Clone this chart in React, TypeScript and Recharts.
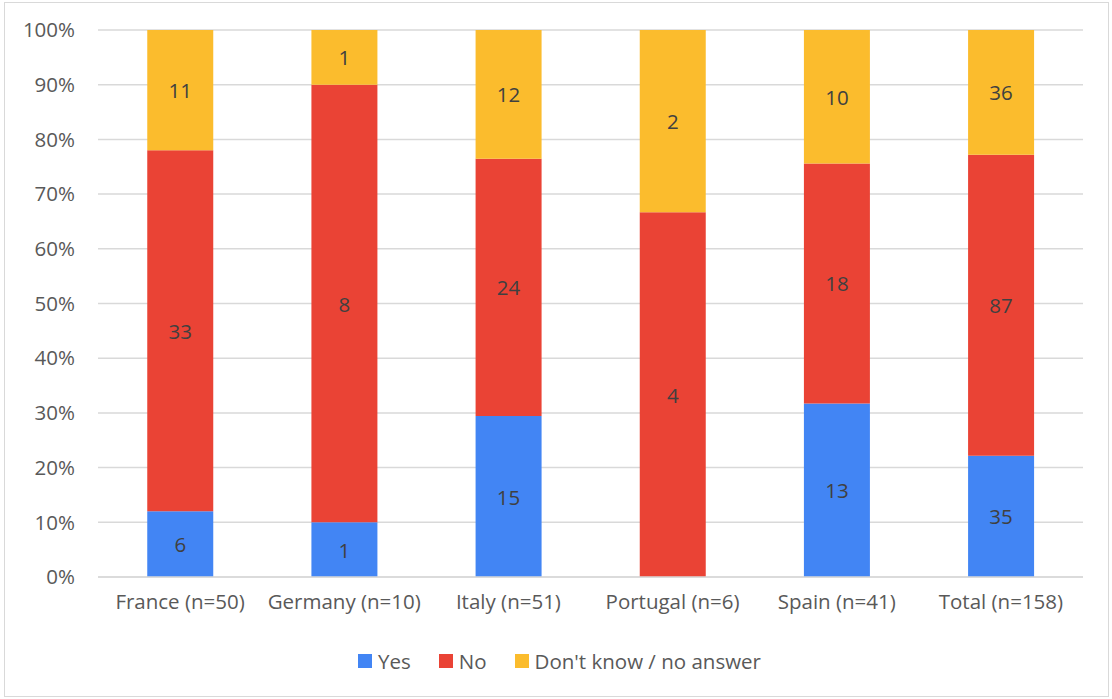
import { BarChart, Bar, XAxis, YAxis, CartesianGrid, Legend, LabelList } from "recharts";

// survey counts per country
const countries = ["France", "Germany", "Italy", "Portugal", "Spain", "Total"];
const yesCounts = [6, 1, 15, 0, 13, 35];
const noCounts = [33, 8, 24, 4, 18, 87];
const dkCounts = [11, 1, 12, 2, 10, 36];
const pctTicks = [0, 0.1, 0.2, 0.3, 0.4, 0.5, 0.6, 0.7, 0.8, 0.9, 1];

const series = [
  { key: "yes", name: "Yes", color: "#4285F4" },
  { key: "no", name: "No", color: "#EA4335" },
  { key: "dk", name: "Don't know / no answer", color: "#FBBC2D" },
];

// shares drive the bar heights, raw counts feed the labels
const rows = countries.map((c, i) => {
  const n = yesCounts[i] + noCounts[i] + dkCounts[i];
  return {
    label: `${c} (n=${n})`,
    yes: yesCounts[i] / n,
    no: noCounts[i] / n,
    dk: dkCounts[i] / n,
    yesN: yesCounts[i],
    noN: noCounts[i],
    dkN: dkCounts[i],
  };
});

const FONT = "'Open Sans', sans-serif";
const FS = 20.5;

function CountLabel(props: any) {
  const { x, y, width, height, value } = props;
  if (!value) return null;
  return (
    <text
      x={x + width / 2}
      y={y + height / 2}
      textAnchor="middle"
      dominantBaseline="central"
      fill="#404040"
      fontSize={FS}
      fontFamily={FONT}
    >
      {value}
    </text>
  );
}

function LegendBox() {
  return (
    <div style={{ display: "flex", justifyContent: "center", alignItems: "center", paddingLeft: 36, fontFamily: FONT, fontSize: FS, color: "#595959" }}>
      {series.map((s, i) => (
        <div key={s.key} style={{ display: "flex", alignItems: "center", marginLeft: i ? 28 : 0 }}>
          <span style={{ display: "inline-block", width: 14, height: 14, background: s.color, marginRight: 6 }} />
          <span>{s.name}</span>
        </div>
      ))}
    </div>
  );
}

export default function App() {
  return (
    <div style={{ position: "absolute", left: 0, top: 0, width: 1112, height: 699, background: "#fff" }}>
      <div style={{ position: "absolute", left: 4, top: 2, width: 1103, height: 693, border: "1.5px solid #D9D9D9" }} />
      <BarChart
        width={1112}
        height={699}
        data={rows}
        margin={{ top: 30, right: 29, left: 0, bottom: 58 }}
        barCategoryGap="30%"
      >
        <CartesianGrid vertical={false} stroke="#D9D9D9" strokeWidth={1.5} />
        <XAxis
          dataKey="label"
          axisLine={{ stroke: "#D9D9D9", strokeWidth: 1.5 }}
          tickLine={false}
          tickSize={0}
          tickMargin={17}
          height={40}
          interval={0}
          tick={{ fill: "#595959", fontSize: FS, fontFamily: FONT }}
        />
        <YAxis
          width={98}
          domain={[0, 1]}
          ticks={pctTicks}
          tickFormatter={(v: number) => `${Math.round(v * 100)}%`}
          axisLine={false}
          tickLine={false}
          tickSize={0}
          tickMargin={23}
          tick={{ fill: "#595959", fontSize: FS, fontFamily: FONT }}
        />
        <Legend
          verticalAlign="bottom"
          height={24}
          wrapperStyle={{ bottom: 28 }}
          content={() => <LegendBox />}
        />
        {series.map((s) => (
          <Bar key={s.key} dataKey={s.key} name={s.name} stackId="a" fill={s.color} isAnimationActive={false}>
            <LabelList dataKey={`${s.key}N`} content={CountLabel} />
          </Bar>
        ))}
      </BarChart>
    </div>
  );
}
